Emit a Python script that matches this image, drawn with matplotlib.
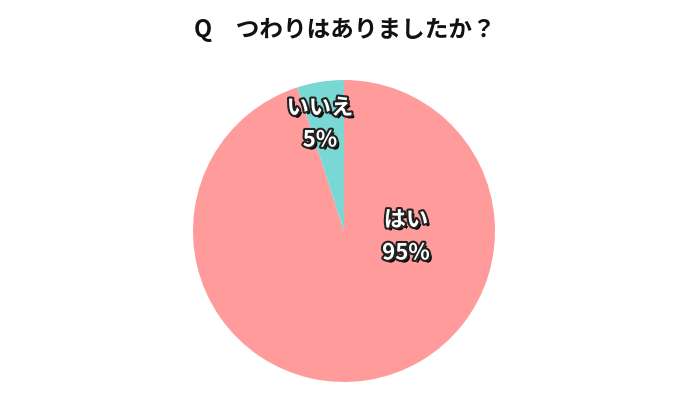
import matplotlib
matplotlib.use("Agg")
import matplotlib.pyplot as plt
import matplotlib.patheffects as pe

plt.rcParams['font.family'] = ['Noto Sans CJK JP', 'DejaVu Sans']

title = "Q　つわりはありましたか？"
labels = ["はい", "いいえ"]
values = [95, 5]
colors = ["#FF9B9B", "#79D8D3"]

W, H = 690, 400
fig = plt.figure(figsize=(6.9, 4.0), dpi=100)
ax = fig.add_axes([0, 0, 1, 1])
ax.set_xlim(0, W)
ax.set_ylim(0, H)
ax.set_aspect('equal')
ax.axis('off')

cx, cy, r = 344, H - 231, 151
ax.pie(values, colors=colors, startangle=90, counterclock=False,
       center=(cx, cy), radius=r, frame=True,
       wedgeprops=dict(linewidth=0))
ax.set_xlim(0, W)
ax.set_ylim(0, H)
ax.axis('off')

fig.text(0.5, 1 - 30 / H, title, ha='center', va='center',
         fontsize=17, fontweight='bold', color='#111111')

effects = [pe.withSimplePatchShadow(offset=(2, -2), shadow_rgbFace='black', alpha=1),
           pe.withStroke(linewidth=3, foreground='#222222')]

label_pos = [(406, 220, 253), (320, 108, 140)]
for lab, v, (x, y1, y2) in zip(labels, values, label_pos):
    for txt, y in ((lab, y1), (f"{v}%", y2)):
        ax.text(x, H - y, txt, ha='center', va='center', fontsize=16,
                fontweight='bold', color='white', path_effects=effects)

fig.savefig("out.png", dpi=100)
